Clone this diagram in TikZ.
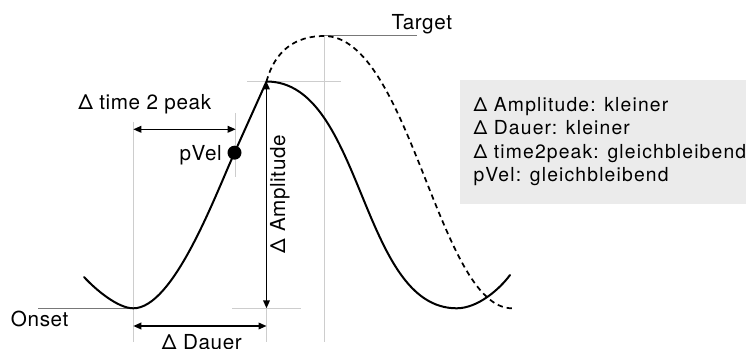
\documentclass[tikz,border=0pt]{standalone}
\usepackage{fontspec}
\setmainfont{TeX Gyre Heros}
\newfontfamily\labfont{TeX Gyre Heros}[LetterSpace=3]
\newfontfamily\boxfont{TeX Gyre Heros}[LetterSpace=6]
\usetikzlibrary{arrows.meta}
\definecolor{boxgray}{RGB}{235,235,235}
\definecolor{guide}{RGB}{205,205,205}
\definecolor{refline}{RGB}{120,120,120}
\begin{document}
\begin{tikzpicture}[x=0.75pt,y=-0.75pt,
  lab/.style={inner sep=0pt, font=\labfont\fontsize{15.5}{18}\selectfont},
  boxtxt/.style={inner sep=0pt, anchor=base west, font=\boxfont\fontsize{14.5}{17}\selectfont},
  curve/.style={line width=1.5pt, line join=round, line cap=round},
  dashcurve/.style={line width=1.3pt, dash pattern=on 4pt off 3pt},
  dim/.style={line width=1.1pt, {Triangle[length=6pt,width=5pt]}-{Triangle[length=6pt,width=5pt]}},
  guideline/.style={draw=guide, line width=0.75pt},
  refl/.style={draw=refline, line width=0.75pt}]
\useasboundingbox (0,0) rectangle (746,349);

% key points
\coordinate (start) at (84,277);
\coordinate (onset) at (133.3,308.3);
\coordinate (pv) at (234.5,152.7);
\coordinate (peak) at (266.5,81.5);
\coordinate (min2) at (456.7,308.3);
\coordinate (end) at (510,275);
\coordinate (target) at (324,36);
\coordinate (dend) at (512,308.3);
\coordinate (onsetend) at (38,308.3);
\coordinate (targetend) at (417,36);
\coordinate (ampbot) at (266.5,308.3);
\coordinate (t2pL) at (133.3,129.3);
\coordinate (t2pR) at (235.7,129.3);
\coordinate (dL) at (133.3,326);
\coordinate (dR) at (266.5,326);

% info box
\node[fill=boxgray, anchor=north west, inner sep=0pt, minimum width=214.5pt, minimum height=93pt] (infobox) at (460,80) {};

% guide lines
\draw[guideline] (133.3,122) -- (133.3,342);
\draw[guideline] (235.7,113) -- (235.7,177);
\draw[guideline] (target) -- (324,342);
\draw[guideline] (ampbot) -- (266.5,342);
\draw[guideline] (247,81.5) -- (341,81.5);
\draw[guideline] (232,308.3) -- (301,308.3);
\draw[refl] (onsetend) -- (onset);
\draw[refl] (target) -- (targetend);

% curves
\draw[curve] (start) .. controls (96,290) and (118,308.3) .. (onset)
  .. controls (173.3,308.3) and (214.5,197.2) .. (pv) -- (peak)
  .. controls (363.5,81.5) and (359.7,308.3) .. (min2)
  .. controls (478,308.3) and (500,288.7) .. (end);
\draw[dashcurve] (peak) .. controls (275,50) and (296,36) .. (target)
  .. controls (409.7,36) and (438.7,308.3) .. (dend);

% dimension arrows
\draw[dim] (peak) -- (ampbot);
\draw[dim] (t2pL) -- (t2pR);
\draw[dim] (dL) -- (dR);

% pVel dot
\node[circle, fill=black, inner sep=0pt, minimum size=10.5pt] (pvel) at (pv) {};

% labels
\node[lab, anchor=base west] (t2plabel) at (78,110) {Δ time 2 peak};
\node[lab, anchor=base east] (pvellabel) at (222,160.5) {pVel};
\node[lab, anchor=base, rotate=90] (amplabel) at (285,194) {Δ Amplitude};
\node[lab, anchor=base west] (onsetlabel) at (10.7,326.7) {Onset};
\node[lab, anchor=base west] (dauerlabel) at (161.7,349.5) {Δ Dauer};
\node[lab, anchor=base west] (targetlabel) at (391.3,30) {Target};

% box text
\node[boxtxt] (l1) at (473.3,111.7) {Δ Amplitude: kleiner};
\node[boxtxt] (l2) at (473.3,135) {Δ Dauer: kleiner};
\node[boxtxt] (l3) at (473.3,158.3) {Δ time2peak: gleichbleibend};
\node[boxtxt] (l4) at (473.3,181.7) {pVel: gleichbleibend};
\end{tikzpicture}
\end{document}
